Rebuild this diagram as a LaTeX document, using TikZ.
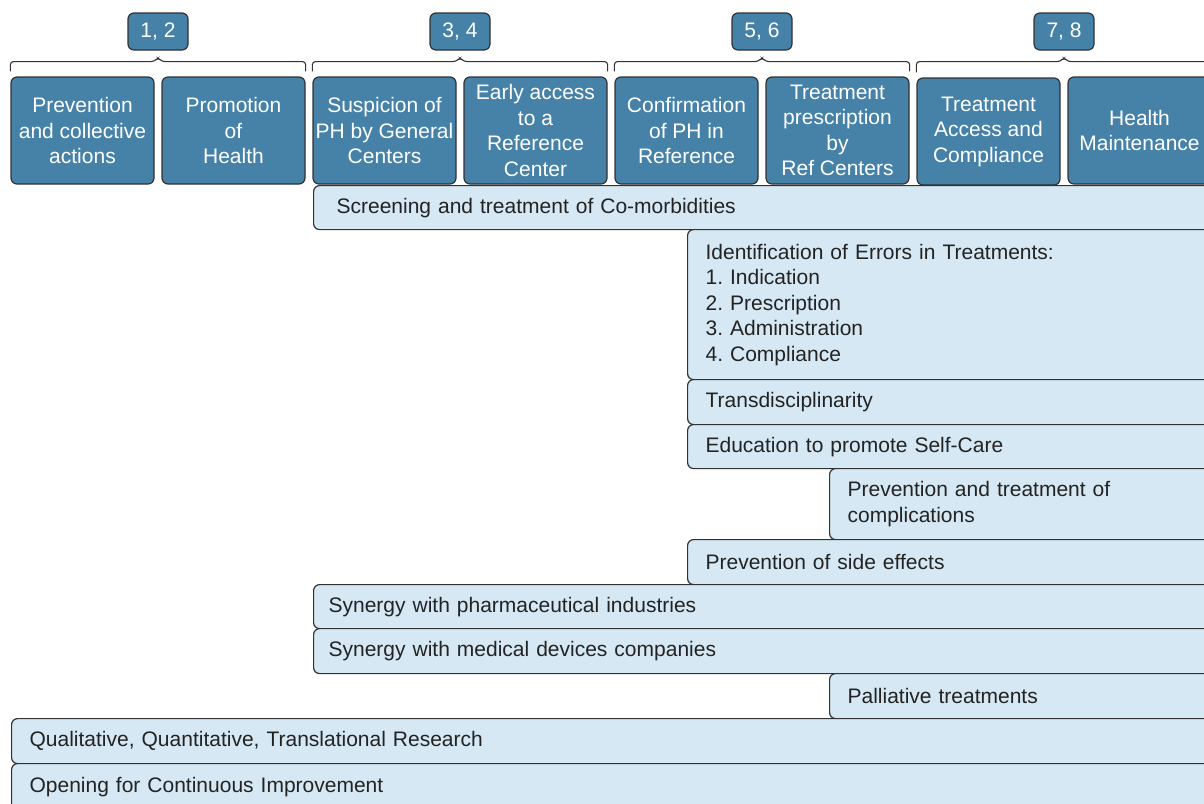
\documentclass[tikz,border=0pt]{standalone}
\usepackage{fontspec}
\setmainfont{Liberation Sans}
\frenchspacing

\definecolor{stageblue}{RGB}{70,130,168}
\definecolor{barblue}{RGB}{213,232,243}
\definecolor{edgegray}{RGB}{50,50,50}
\definecolor{textgray}{RGB}{35,35,35}

\begin{document}
\begin{tikzpicture}[x=1pt, y=-1pt,
    every node/.style={font=\fontsize{21}{25.5}\selectfont},
    stage/.style={draw=edgegray, line width=1.2pt, fill=stageblue, text=white, rounded corners=6pt,
      minimum width=143pt, minimum height=107pt, align=center, inner sep=1pt},
    tag/.style={stage, minimum width=60pt, minimum height=37pt},
    bar/.style={draw=edgegray, line width=1.2pt, fill=barblue, text=textgray, rounded corners=6pt,
      anchor=north west, align=left, inner xsep=18pt, inner ysep=0pt},
    bracket/.style={draw=edgegray, line width=1.1pt, rounded corners=3pt}]

    \useasboundingbox (0,0) rectangle (1204,803);

    % Stages
    \node[stage] (s1) at (82.5,130.5) {Prevention\\and collective\\actions};
    \node[stage] (s2) at (233.5,130.5) {Promotion\\of\\Health};
    \node[stage] (s3) at (384.5,130.5) {Suspicion of\\PH by General\\Centers};
    \node[stage] (s4) at (535.5,130.5) {Early access\\to a\\Reference\\Center};
    \node[stage] (s5) at (686.5,130.5) {Confirmation\\of PH in\\Reference};
    \node[stage] (s6) at (837.5,130.5) {Treatment\\prescription\\by\\Ref Centers};
    \node[stage] (s7) at (988.5,131.5) {Treatment\\Access and\\Compliance};
    \node[stage] (s8) at (1139.5,130.5) {Health\\Maintenance};

    % Tags
    \node[tag] (t12) at (158,31.5) {1, 2};
    \node[tag] (t34) at (460,31.5) {3, 4};
    \node[tag] (t56) at (762,31.5) {5, 6};
    \node[tag] (t78) at (1064,31.5) {7, 8};

    % Brackets
    \draw[bracket] ([yshift=5pt]s1.north west) |- ([xshift=-4pt,yshift=-11pt]t12.south)
      -- ([yshift=-7pt]t12.south) -- ([xshift=4pt,yshift=-11pt]t12.south) -| ([yshift=5pt]s2.north east);
    \draw[bracket] ([yshift=5pt]s3.north west) |- ([xshift=-4pt,yshift=-11pt]t34.south)
      -- ([yshift=-7pt]t34.south) -- ([xshift=4pt,yshift=-11pt]t34.south) -| ([yshift=5pt]s4.north east);
    \draw[bracket] ([yshift=5pt]s5.north west) |- ([xshift=-4pt,yshift=-11pt]t56.south)
      -- ([yshift=-7pt]t56.south) -- ([xshift=4pt,yshift=-11pt]t56.south) -| ([yshift=5pt]s6.north east);
    \draw[bracket] ([yshift=5pt]s7.north west) |- ([xshift=-4pt,yshift=-11pt]t78.south)
      -- ([yshift=-7pt]t78.south) -- ([xshift=4pt,yshift=-11pt]t78.south) -| ([yshift=5pt]s8.north east);

    % Actions
    \node[bar, inner xsep=23pt, text width=856pt, minimum height=44pt] (screen) at (313,185)
      {Screening and treatment of Co-morbidities};
    \node[bar, text width=492pt, minimum height=150pt] (errors) at (687,229)
      {Identification of Errors in Treatments:\\1. Indication\\2. Prescription\\3. Administration\\4. Compliance};
    \node[bar, text width=492pt, minimum height=45pt] (transd) at (687,379) {Transdisciplinarity};
    \node[bar, text width=492pt, minimum height=44pt] (educ) at (687,424) {Education to promote Self-Care};
    \node[bar, text width=350pt, minimum height=71pt] (compl) at (829,468)
      {Prevention and treatment of\\complications};
    \node[bar, text width=492pt, minimum height=45pt] (side) at (687,539) {Prevention of side effects};
    \node[bar, inner xsep=15pt, text width=872pt, minimum height=44pt] (pharma) at (313,584)
      {Synergy with pharmaceutical industries};
    \node[bar, inner xsep=15pt, text width=872pt, minimum height=45pt] (devices) at (313,628)
      {Synergy with medical devices companies};
    \node[bar, text width=350pt, minimum height=45pt] (palli) at (829,673) {Palliative treatments};
    \node[bar, text width=1168pt, minimum height=45pt] (research) at (11,718)
      {Qualitative, Quantitative, Translational Research};
    \node[bar, text width=1168pt, minimum height=47pt] (opening) at (11,763)
      {Opening for Continuous Improvement};
\end{tikzpicture}
\end{document}
